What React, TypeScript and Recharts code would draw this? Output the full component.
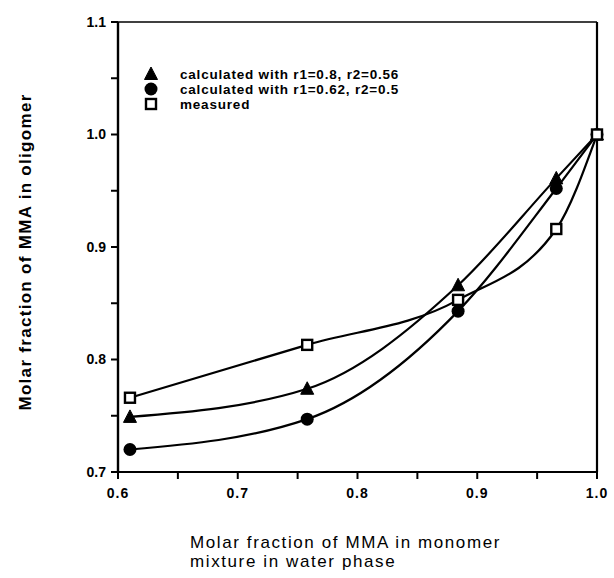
import React from 'react';
import { LineChart, Line, XAxis, YAxis, Legend, ReferenceLine } from 'recharts';

// x: molar fraction of MMA in monomer mixture (water phase)
const xValues = [0.61, 0.758, 0.884, 0.966, 1.0];
// calculated with r1=0.8, r2=0.56 (triangles)
const calcA = [0.749, 0.774, 0.866, 0.961, 1.0];
// calculated with r1=0.62, r2=0.5 (circles)
const calcB = [0.72, 0.747, 0.843, 0.952, 1.0];
// measured (open squares)
const measured = [0.766, 0.813, 0.853, 0.916, 1.0];

const seriesNames = {
  calcA: 'calculated with r1=0.8, r2=0.56',
  calcB: 'calculated with r1=0.62, r2=0.5',
  measured: 'measured',
};

const xTicks = [0.6, 0.65, 0.7, 0.75, 0.8, 0.85, 0.9, 0.95, 1.0];
const yTicks = [0.7, 0.75, 0.8, 0.85, 0.9, 0.95, 1.0, 1.05, 1.1];

const xTitleLines = ['Molar fraction of MMA in monomer', 'mixture in water phase'];
const yTitle = 'Molar fraction of MMA in oligomer';

const data = xValues.map((x, i) => ({
  x,
  calcA: calcA[i],
  calcB: calcB[i],
  measured: measured[i],
}));

const FONT = '"Liberation Sans", Arial, Helvetica, sans-serif';

const isMajor = (v: number) => Math.abs(v * 10 - Math.round(v * 10)) < 1e-6;
const fmt = (v: number) => (isMajor(v) ? v.toFixed(1) : '');

const Triangle = (props: any) => {
  const { cx, cy } = props;
  if (cx == null || cy == null) return null;
  return <path d={`M${cx},${cy - 7} L${cx + 6.5},${cy + 5.5} L${cx - 6.5},${cy + 5.5} Z`} fill="#000" stroke="#000" strokeWidth={1} />;
};

const Circle = (props: any) => {
  const { cx, cy } = props;
  if (cx == null || cy == null) return null;
  return <circle cx={cx} cy={cy} r={6.5} fill="#000" />;
};

const Square = (props: any) => {
  const { cx, cy } = props;
  if (cx == null || cy == null) return null;
  return <rect x={cx - 5} y={cy - 5} width={10} height={10} fill="#fff" stroke="#000" strokeWidth={2.4} />;
};

const markerFor: Record<string, (p: any) => any> = {
  calcA: Triangle,
  calcB: Circle,
  measured: Square,
};

const LegendContent = () => {
  const keys = ['calcA', 'calcB', 'measured'] as const;
  return (
    <svg width={320} height={50} style={{ display: 'block' }}>
      {keys.map((k, i) => {
        const M = markerFor[k];
        const cy = 8 + i * 15;
        return (
          <g key={k}>
            <M cx={8} cy={cy} />
            <text x={37} y={cy} dy="0.36em" fontFamily={FONT} fontWeight="bold" fontSize={13.5} letterSpacing={0.8} fill="#000">
              {seriesNames[k]}
            </text>
          </g>
        );
      })}
    </svg>
  );
};

const XTitle = (props: any) => {
  const vb = props.viewBox || { x: 118, y: 472 };
  return (
    <g>
      {xTitleLines.map((t, i) => (
        <text key={i} x={vb.x + 72} y={vb.y + 76 + i * 19} fontFamily={FONT} fontSize={17} letterSpacing={1.6} fill="#000">
          {t}
        </text>
      ))}
    </g>
  );
};

const YTitle = (props: any) => {
  const vb = props.viewBox || { x: 0, y: 22, height: 450 };
  const cx = vb.x + 25;
  const cy = vb.y + vb.height / 2 + 5;
  return (
    <text
      x={cx}
      y={cy}
      transform={`rotate(-90, ${cx}, ${cy})`}
      textAnchor="middle"
      dominantBaseline="central"
      fontFamily={FONT}
      fontWeight="bold"
      fontSize={17}
      letterSpacing={1.3}
      fill="#000"
    >
      {yTitle}
    </text>
  );
};

const tickLineStyle = { stroke: '#000', strokeWidth: 2 };
const tickTextStyle = { fill: '#000', fontSize: 14, fontWeight: 'bold', fontFamily: FONT };

export default function App() {
  return (
    <div style={{ position: 'absolute', left: 0, top: 0, width: 614, height: 578, background: '#fff' }}>
      <LineChart
        width={614}
        height={578}
        data={data}
        margin={{ top: 22, right: 17, bottom: 46, left: 0 }}
      >
        <XAxis
          dataKey="x"
          type="number"
          domain={[0.6, 1.0]}
          ticks={xTicks}
          height={60}
          tickSize={7}
          tickMargin={9}
          tickLine={tickLineStyle}
          axisLine={{ stroke: '#000', strokeWidth: 2.2 }}
          tick={{ ...tickTextStyle, letterSpacing: 1 }}
          tickFormatter={fmt}
          interval={0}
          label={<XTitle />}
        />
        <YAxis
          type="number"
          domain={[0.7, 1.1]}
          ticks={yTicks}
          width={118}
          tickSize={7}
          tickMargin={5}
          tickLine={tickLineStyle}
          axisLine={{ stroke: '#000', strokeWidth: 2.4 }}
          tick={tickTextStyle}
          tickFormatter={fmt}
          interval={0}
          label={<YTitle />}
        />
        <ReferenceLine y={1.1} stroke="#000" strokeWidth={1.4} />
        <ReferenceLine x={1.0} stroke="#000" strokeWidth={2.2} />
        <Legend
          layout="horizontal"
          verticalAlign="middle"
          align="center"
          wrapperStyle={{ position: 'absolute', top: 66, left: 143, width: 320 }}
          content={<LegendContent />}
        />
        <Line
          dataKey="calcA"
          name={seriesNames.calcA}
          type="monotone"
          stroke="#000"
          strokeWidth={2.2}
          dot={(p: any) => <Triangle key={`a${p.index}`} {...p} />}
          activeDot={false}
          isAnimationActive={false}
        />
        <Line
          dataKey="calcB"
          name={seriesNames.calcB}
          type="monotone"
          stroke="#000"
          strokeWidth={2.2}
          dot={(p: any) => <Circle key={`b${p.index}`} {...p} />}
          activeDot={false}
          isAnimationActive={false}
        />
        <Line
          dataKey="measured"
          name={seriesNames.measured}
          type="monotone"
          stroke="#000"
          strokeWidth={2.2}
          dot={(p: any) => <Square key={`m${p.index}`} {...p} />}
          activeDot={false}
          isAnimationActive={false}
        />
      </LineChart>
    </div>
  );
}
